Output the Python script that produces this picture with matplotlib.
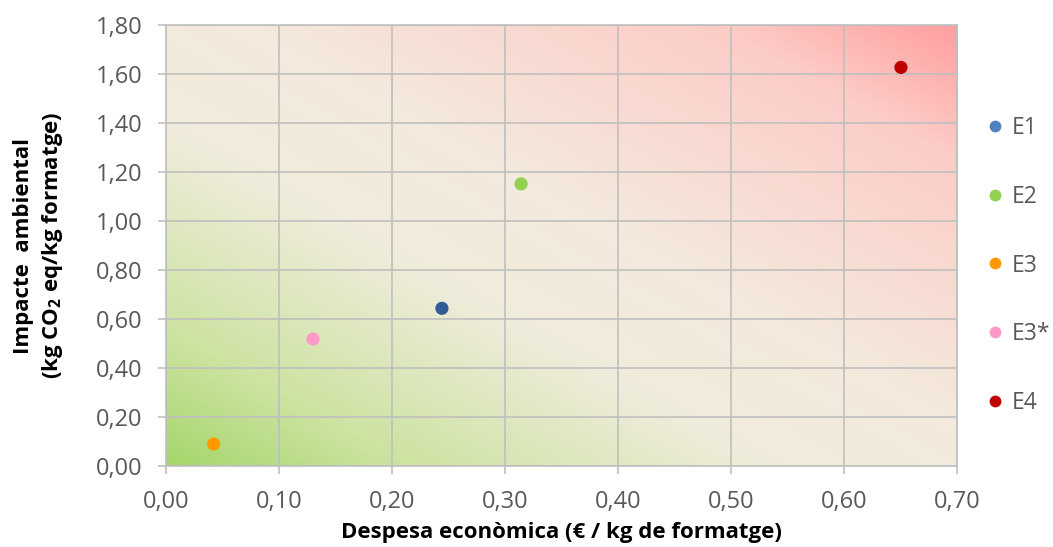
import numpy as np
import matplotlib
matplotlib.use('Agg')
import matplotlib.pyplot as plt
from matplotlib.colors import LinearSegmentedColormap
from matplotlib.ticker import FuncFormatter, MultipleLocator
from matplotlib.lines import Line2D

plt.rcParams['font.family'] = ['Open Sans', 'DejaVu Sans']
plt.rcParams['mathtext.fontset'] = 'custom'
plt.rcParams['mathtext.rm'] = 'Open Sans'
plt.rcParams['mathtext.bf'] = 'Open Sans:bold'

# escenaris: despesa (€/kg) i impacte (kg CO2 eq/kg)
escenaris = ['E1', 'E2', 'E3', 'E3*', 'E4']
despesa = [0.244, 0.314, 0.042, 0.130, 0.650]
impacte = [0.644, 1.151, 0.091, 0.519, 1.626]
colors_punt = ['#2E5E95', '#92D050', '#FF9900', '#FF99CC', '#C00000']
colors_llegenda = ['#4F81BD', '#92D050', '#FF9900', '#FF99CC', '#C00000']

xmax, ymax = 0.70, 1.80
gris = '#595959'
linia = '#BFBFBF'

fig = plt.figure(figsize=(10.53, 5.47), dpi=100)
ax = fig.add_axes([0.1577, 0.1475, 0.7516, 0.8073])

# fons degradat en diagonal: verd (barat/net) -> beix -> vermell (car/contaminant)
fons = LinearSegmentedColormap.from_list('fons', [
    (0.00, (0.65, 0.84, 0.42)),
    (0.15, (0.80, 0.89, 0.63)),
    (0.38, (0.94, 0.925, 0.86)),
    (0.55, (0.955, 0.915, 0.865)),
    (0.85, (0.99, 0.80, 0.78)),
    (1.00, (1.00, 0.62, 0.62)),
])
u = np.linspace(0, 1, 400)
v = np.linspace(0, 1, 300)
U, V = np.meshgrid(u, v)
ax.imshow((U + V) / 2, cmap=fons, vmin=0, vmax=1, origin='lower',
          extent=(0, xmax, 0, ymax), aspect='auto', zorder=0,
          interpolation='bilinear')

ax.set_xlim(0, xmax)
ax.set_ylim(0, ymax)
ax.xaxis.set_major_locator(MultipleLocator(0.10))
ax.yaxis.set_major_locator(MultipleLocator(0.20))
coma = FuncFormatter(lambda val, pos: f'{val:.2f}'.replace('.', ','))
ax.xaxis.set_major_formatter(coma)
ax.yaxis.set_major_formatter(coma)
ax.grid(True, color=linia, linewidth=1.2, zorder=1)
ax.set_axisbelow(False)
for s in ax.spines.values():
    s.set_color(linia)
    s.set_linewidth(1.2)
ax.tick_params(colors=linia, labelcolor=gris, labelsize=17, length=6,
               width=1.2)
ax.tick_params(axis='x', pad=11)
ax.tick_params(axis='y', pad=11)

for x, y, c in zip(despesa, impacte, colors_punt):
    ax.scatter(x, y, s=90, color=c, zorder=3, edgecolors='none')

ax.set_xlabel('Despesa econòmica (€ / kg de formatge)', fontsize=16,
              fontweight='bold', labelpad=6)
ax.set_ylabel('Impacte  ambiental\n(kg CO$_\\mathbf{2}$ eq/kg formatge)',
              fontsize=16, fontweight='bold', linespacing=1.3)
ax.yaxis.set_label_coords(-0.128, 0.5)

handles = [Line2D([], [], marker='o', linestyle='none', markersize=8.5,
                  markerfacecolor=c, markeredgecolor='none')
           for c in colors_llegenda]
fig.legend(handles, escenaris, loc='center left',
           bbox_to_anchor=(0.918, 0.5146), frameon=False, fontsize=16.5,
           labelcolor=gris, labelspacing=1.95, handlelength=0.7,
           handletextpad=0.35)

fig.savefig('out.png', dpi=100)
